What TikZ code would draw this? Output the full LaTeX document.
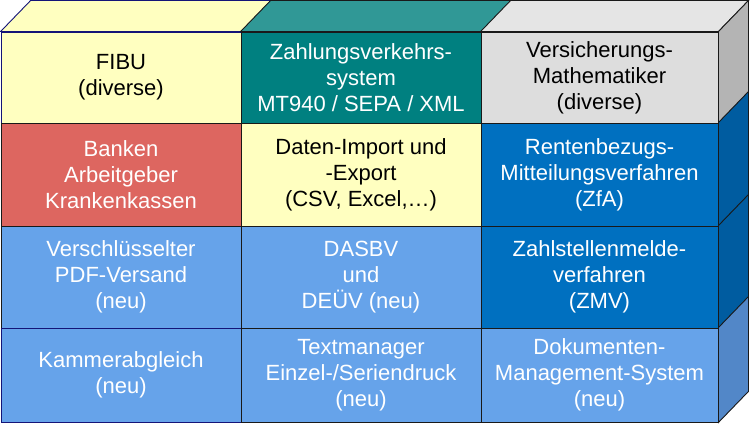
\documentclass[tikz,border=0pt]{standalone}
\usepackage{fontspec}
\setmainfont{Liberation Sans}

\definecolor{paleyellow}{RGB}{255,255,192}
\definecolor{tealfront}{RGB}{0,128,128}
\definecolor{tealtop}{RGB}{48,152,150}
\definecolor{grayfront}{RGB}{221,221,221}
\definecolor{graytop}{RGB}{229,229,229}
\definecolor{grayside}{RGB}{180,180,180}
\definecolor{redfront}{RGB}{221,102,96}
\definecolor{darkblue}{RGB}{0,112,192}
\definecolor{darkblueside}{RGB}{0,92,160}
\definecolor{lightblue}{RGB}{102,163,234}
\definecolor{lightblueside}{RGB}{82,135,200}
\definecolor{navyline}{RGB}{20,20,120}

\begin{document}
\begin{tikzpicture}[x=1pt,y=-1pt]
        % Define styles
        \tikzset{
            cell/.style={rectangle, draw=black!90, line width=0.9pt, inner sep=0pt,
                         align=center, font=\fontsize{22}{26}\selectfont},
            wide/.style={minimum width=240pt},
            narrow/.style={minimum width=237pt},
            face/.style={draw=black!90, line width=0.9pt}
        }

        \useasboundingbox (0,0) rectangle (750,430);

        % Top row
        \node[cell, wide, minimum height=91pt, fill=paleyellow, draw=navyline] (fibu) at (121,77.5) {FIBU\\(diverse)};
        \node[cell, wide, minimum height=91pt, fill=tealfront, text=white] (zvs) at (361,77.5) {Zahlungsverkehrs-\\system\\MT940 / SEPA / XML};
        \node[cell, narrow, minimum height=91pt, fill=grayfront] (versmath) at (599.5,77.5) {Versicherungs-\\Mathematiker\\(diverse)};

        % Second row
        \node[cell, wide, minimum height=103pt, fill=redfront, text=white] (banken) at (121,174.5) {Banken\\Arbeitgeber\\Krankenkassen};
        \node[cell, wide, minimum height=103pt, fill=paleyellow] (datenio) at (361,174.5) {Daten-Import und\\-Export\\(CSV, Excel,…)};
        \node[cell, narrow, minimum height=103pt, fill=darkblue, text=white] (rentenbezug) at (599.5,174.5) {Rentenbezugs-\\Mitteilungsverfahren\\(ZfA)};

        % Third row
        \node[cell, wide, minimum height=102pt, fill=lightblue, text=white] (pdfversand) at (121,277) {Verschlüsselter\\PDF-Versand\\(neu)};
        \node[cell, wide, minimum height=102pt, fill=lightblue, text=white] (dasbv) at (361,277) {DASBV\\und\\DEÜV (neu)};
        \node[cell, narrow, minimum height=102pt, fill=darkblue, text=white] (zmv) at (599.5,277) {Zahlstellenmelde-\\verfahren\\(ZMV)};

        % Bottom row
        \node[cell, wide, minimum height=94pt, fill=lightblue, text=white, draw=navyline] (kammer) at (121,375) {Kammerabgleich\\(neu)};
        \node[cell, wide, minimum height=94pt, fill=lightblue, text=white] (textmgr) at (361,375) {Textmanager\\Einzel-/Seriendruck\\(neu)};
        \node[cell, narrow, minimum height=94pt, fill=lightblue, text=white] (dms) at (599.5,375) {Dokumenten-\\Management-System\\(neu)};

        % Top faces
        \draw[face, fill=paleyellow, draw=navyline] (fibu.north west) -- ++(30,-31) -- ([shift={(30,-31)}]fibu.north east) -- (fibu.north east) -- cycle;
        \draw[face, fill=tealtop] (zvs.north west) -- ++(30,-31) -- ([shift={(30,-31)}]zvs.north east) -- (zvs.north east) -- cycle;
        \draw[face, fill=graytop] (versmath.north west) -- ++(30,-31) -- ([shift={(30,-31)}]versmath.north east) -- (versmath.north east) -- cycle;

        % Side faces
        \draw[face, fill=grayside] (versmath.north east) -- ++(30,-31) -- ([shift={(30,-31)}]versmath.south east) -- (versmath.south east) -- cycle;
        \draw[face, fill=darkblueside] (rentenbezug.north east) -- ++(30,-31) -- ([shift={(30,-31)}]rentenbezug.south east) -- (rentenbezug.south east) -- cycle;
        \draw[face, fill=darkblueside] (zmv.north east) -- ++(30,-31) -- ([shift={(30,-31)}]zmv.south east) -- (zmv.south east) -- cycle;
        \draw[face, fill=lightblueside] (dms.north east) -- ++(30,-31) -- ([shift={(30,-31)}]dms.south east) -- (dms.south east) -- cycle;
    \end{tikzpicture}
\end{document}
